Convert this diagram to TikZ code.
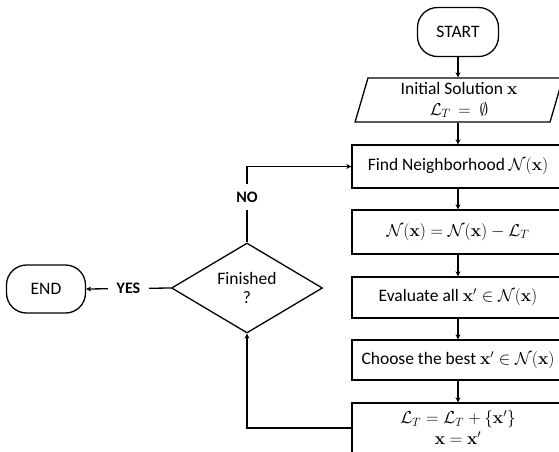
\documentclass[tikz,border=0pt]{standalone}
\usepackage{amsmath,amssymb}
\usepackage[no-math]{fontspec}
\setmainfont{Carlito}
\usetikzlibrary{arrows.meta,shapes.geometric}

\begin{document}
\begin{tikzpicture}[x=1pt,y=-1pt,
  every node/.style={font=\fontsize{17.5}{19}\selectfont, line width=1.3pt},
  terminal/.style={draw, rounded corners=20pt, inner sep=0pt},
  proc/.style={draw, minimum width=212pt, inner sep=0pt},
  io/.style={draw, trapezium, trapezium left angle=77, trapezium right angle=103,
    trapezium stretches=true, minimum width=208pt, minimum height=44pt,
    inner sep=0pt, align=center},
  decision/.style={draw, diamond, shape aspect=1.68, minimum width=151pt,
    minimum height=90pt, inner sep=0pt, align=center},
  flow/.style={line width=1.3pt, -{Stealth[length=5pt,width=5pt]}},
  answer/.style={fill=white, inner xsep=9pt, inner ysep=8pt,
    font=\fontsize{16}{18}\selectfont\bfseries}]
  \useasboundingbox (0,0) rectangle (559,451);
  \clip (0,0) rectangle (559,451);

  % main column
  \node[terminal, minimum width=81pt, minimum height=49pt] (start) at (458,32) {START};
  \node[io] (init) at (459,100)
    {Initial Solution $\mathbf{x}$\\[2pt] $\mathcal{L}_T \,=\ \emptyset$};
  \node[proc, minimum height=43pt] (find) at (458,166.5)
    {Find Neighborhood $\mathcal{N}(\mathbf{x})$};
  \node[proc, minimum height=44pt] (diff) at (458,232)
    {$\mathcal{N}(\mathbf{x}) = \mathcal{N}(\mathbf{x}) - \mathcal{L}_T$};
  \node[proc, minimum height=41pt] (eval) at (458,297.5)
    {Evaluate all $\mathbf{x}' \in \mathcal{N}(\mathbf{x})$};
  \node[proc, minimum height=40pt] (best) at (458,360)
    {Choose the best $\mathbf{x}' \in \mathcal{N}(\mathbf{x})$};
  \node[proc, minimum height=50pt, align=center] (upd) at (458,428)
    {$\mathcal{L}_T = \mathcal{L}_T + \{\mathbf{x}'\}$\\[2pt] $\mathbf{x} = \mathbf{x}'$};

  % decision and exit
  \node[decision] (done) at (247,288) {Finished\\ ?};
  \node[terminal, minimum width=79pt, minimum height=48pt] (end) at (46,289) {END};

  % connectors down the column
  \draw[flow] (start.south) -- (start.south |- init.north);
  \draw[flow] (init.south -| find.north) -- (find.north);
  \draw[flow] (find.south) -- (diff.north);
  \draw[flow] (diff.south) -- (eval.north);
  \draw[flow] (eval.south) -- (best.north);
  \draw[flow] (best.south) -- (upd.north);

  % loop back and branches
  \draw[flow] (upd.west) -| (done.south);
  \draw[flow] (done.north) -- node[answer, pos=0.6] {NO} (done.north |- find.west) -- (find.west);
  \draw[flow] (done.west) -- node[answer] {YES} (end.east);
\end{tikzpicture}
\end{document}
